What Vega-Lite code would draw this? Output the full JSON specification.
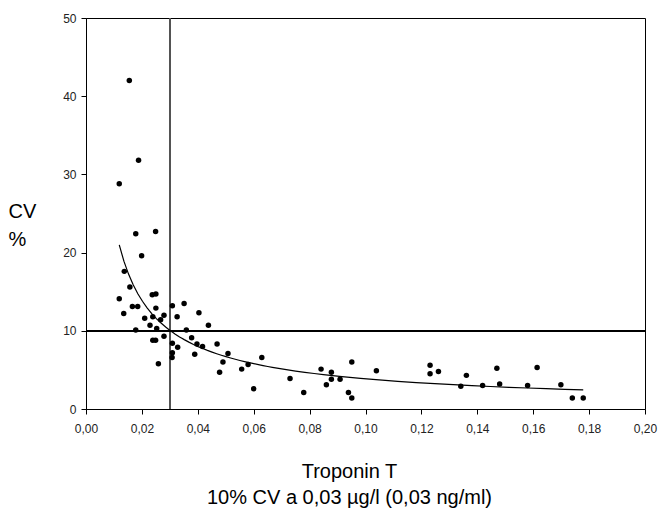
{
  "$schema": "https://vega.github.io/schema/vega-lite/v6.json",
  "width": 559,
  "height": 391,
  "autosize": {"type": "none"},
  "padding": {"left": 86, "top": 18, "right": 13, "bottom": 99},
  "background": "white",
  "config": {
    "view": {"stroke": "#000", "strokeWidth": 1},
    "axis": {"grid": false, "domainColor": "#000", "tickColor": "#000", "labelFont": "Liberation Sans", "labelFontSize": 12, "labelColor": "#222", "tickSize": 5, "titleFont": "Liberation Sans", "titleFontWeight": "normal", "titleColor": "#000", "titleFontSize": 20}
  },
  "data": {"values": [
    {"x": 0.0155, "cv": 42.0}, {"x": 0.0188, "cv": 31.8}, {"x": 0.0119, "cv": 28.8},
    {"x": 0.0178, "cv": 22.4}, {"x": 0.0249, "cv": 22.7}, {"x": 0.0199, "cv": 19.6},
    {"x": 0.0137, "cv": 17.6}, {"x": 0.0157, "cv": 15.6}, {"x": 0.0119, "cv": 14.1},
    {"x": 0.0237, "cv": 14.6}, {"x": 0.0250, "cv": 14.7}, {"x": 0.0166, "cv": 13.1},
    {"x": 0.0185, "cv": 13.1}, {"x": 0.0250, "cv": 12.9}, {"x": 0.0309, "cv": 13.2},
    {"x": 0.0351, "cv": 13.5}, {"x": 0.0135, "cv": 12.2}, {"x": 0.0210, "cv": 11.6},
    {"x": 0.0239, "cv": 11.8}, {"x": 0.0267, "cv": 11.4}, {"x": 0.0279, "cv": 12.0},
    {"x": 0.0326, "cv": 11.8}, {"x": 0.0404, "cv": 12.3}, {"x": 0.0438, "cv": 10.7},
    {"x": 0.0229, "cv": 10.7}, {"x": 0.0178, "cv": 10.1}, {"x": 0.0253, "cv": 10.3},
    {"x": 0.0359, "cv": 10.1}, {"x": 0.0279, "cv": 9.3}, {"x": 0.0378, "cv": 9.1},
    {"x": 0.0239, "cv": 8.8}, {"x": 0.0249, "cv": 8.8}, {"x": 0.0309, "cv": 8.4},
    {"x": 0.0397, "cv": 8.3}, {"x": 0.0417, "cv": 8.0}, {"x": 0.0328, "cv": 7.9},
    {"x": 0.0469, "cv": 8.3}, {"x": 0.0309, "cv": 7.2}, {"x": 0.0389, "cv": 7.0},
    {"x": 0.0508, "cv": 7.1}, {"x": 0.0308, "cv": 6.6}, {"x": 0.0490, "cv": 6.0},
    {"x": 0.0259, "cv": 5.8}, {"x": 0.0557, "cv": 5.1}, {"x": 0.0580, "cv": 5.7},
    {"x": 0.0478, "cv": 4.7}, {"x": 0.0629, "cv": 6.6}, {"x": 0.0600, "cv": 2.6},
    {"x": 0.0730, "cv": 3.9}, {"x": 0.0779, "cv": 2.1}, {"x": 0.0841, "cv": 5.1},
    {"x": 0.0878, "cv": 4.7}, {"x": 0.0860, "cv": 3.1}, {"x": 0.0878, "cv": 3.8},
    {"x": 0.0909, "cv": 3.8}, {"x": 0.0939, "cv": 2.1}, {"x": 0.0951, "cv": 1.4},
    {"x": 0.0951, "cv": 6.0}, {"x": 0.1039, "cv": 4.9}, {"x": 0.1231, "cv": 5.6},
    {"x": 0.1231, "cv": 4.5}, {"x": 0.1261, "cv": 4.8}, {"x": 0.1341, "cv": 2.9},
    {"x": 0.1361, "cv": 4.3}, {"x": 0.1419, "cv": 3.0}, {"x": 0.1470, "cv": 5.2},
    {"x": 0.1480, "cv": 3.2}, {"x": 0.1580, "cv": 3.0}, {"x": 0.1614, "cv": 5.3},
    {"x": 0.1699, "cv": 3.1}, {"x": 0.1740, "cv": 1.4}, {"x": 0.1779, "cv": 1.4}
  ]},
  "encoding": {
    "x": {"field": "x", "type": "quantitative",
      "scale": {"domain": [0, 0.2], "nice": false, "zero": false},
      "axis": {"values": [0, 0.02, 0.04, 0.06, 0.08, 0.1, 0.12, 0.14, 0.16, 0.18, 0.2],
        "labelExpr": "replace(format(datum.value, '.2f'), '.', ',')",
        "labelPadding": 9, "labelFlush": false,
        "title": ["Troponin T", "10% CV a 0,03 µg/l (0,03 ng/ml)"],
        "titleLineHeight": 26, "titleX": 263, "titleY": 68, "titleAlign": "center", "titleBaseline": "alphabetic", "titleAnchor": null}},
    "y": {"field": "cv", "type": "quantitative",
      "scale": {"domain": [0, 50], "nice": false},
      "axis": {"values": [0, 10, 20, 30, 40, 50], "labelPadding": 5,
        "title": ["CV", "%"], "titleAngle": 0, "titleAlign": "left", "titleBaseline": "alphabetic",
        "titleX": -78, "titleY": 199, "titleLineHeight": 28, "titleAnchor": null}}
  },
  "layer": [
    {"mark": {"type": "rule", "color": "#555", "strokeWidth": 1}, "encoding": {"x": {"datum": 0.03}, "y": null}},
    {"mark": {"type": "rule", "color": "#000", "strokeWidth": 1}, "encoding": {"y": {"datum": 10}, "x": null}},
    {"mark": {"type": "line", "color": "#000", "strokeWidth": 1.2},
      "transform": [{"regression": "cv", "on": "x", "method": "pow"}]},
    {"mark": {"type": "circle", "color": "#000", "opacity": 1, "size": 30}}
  ]
}
